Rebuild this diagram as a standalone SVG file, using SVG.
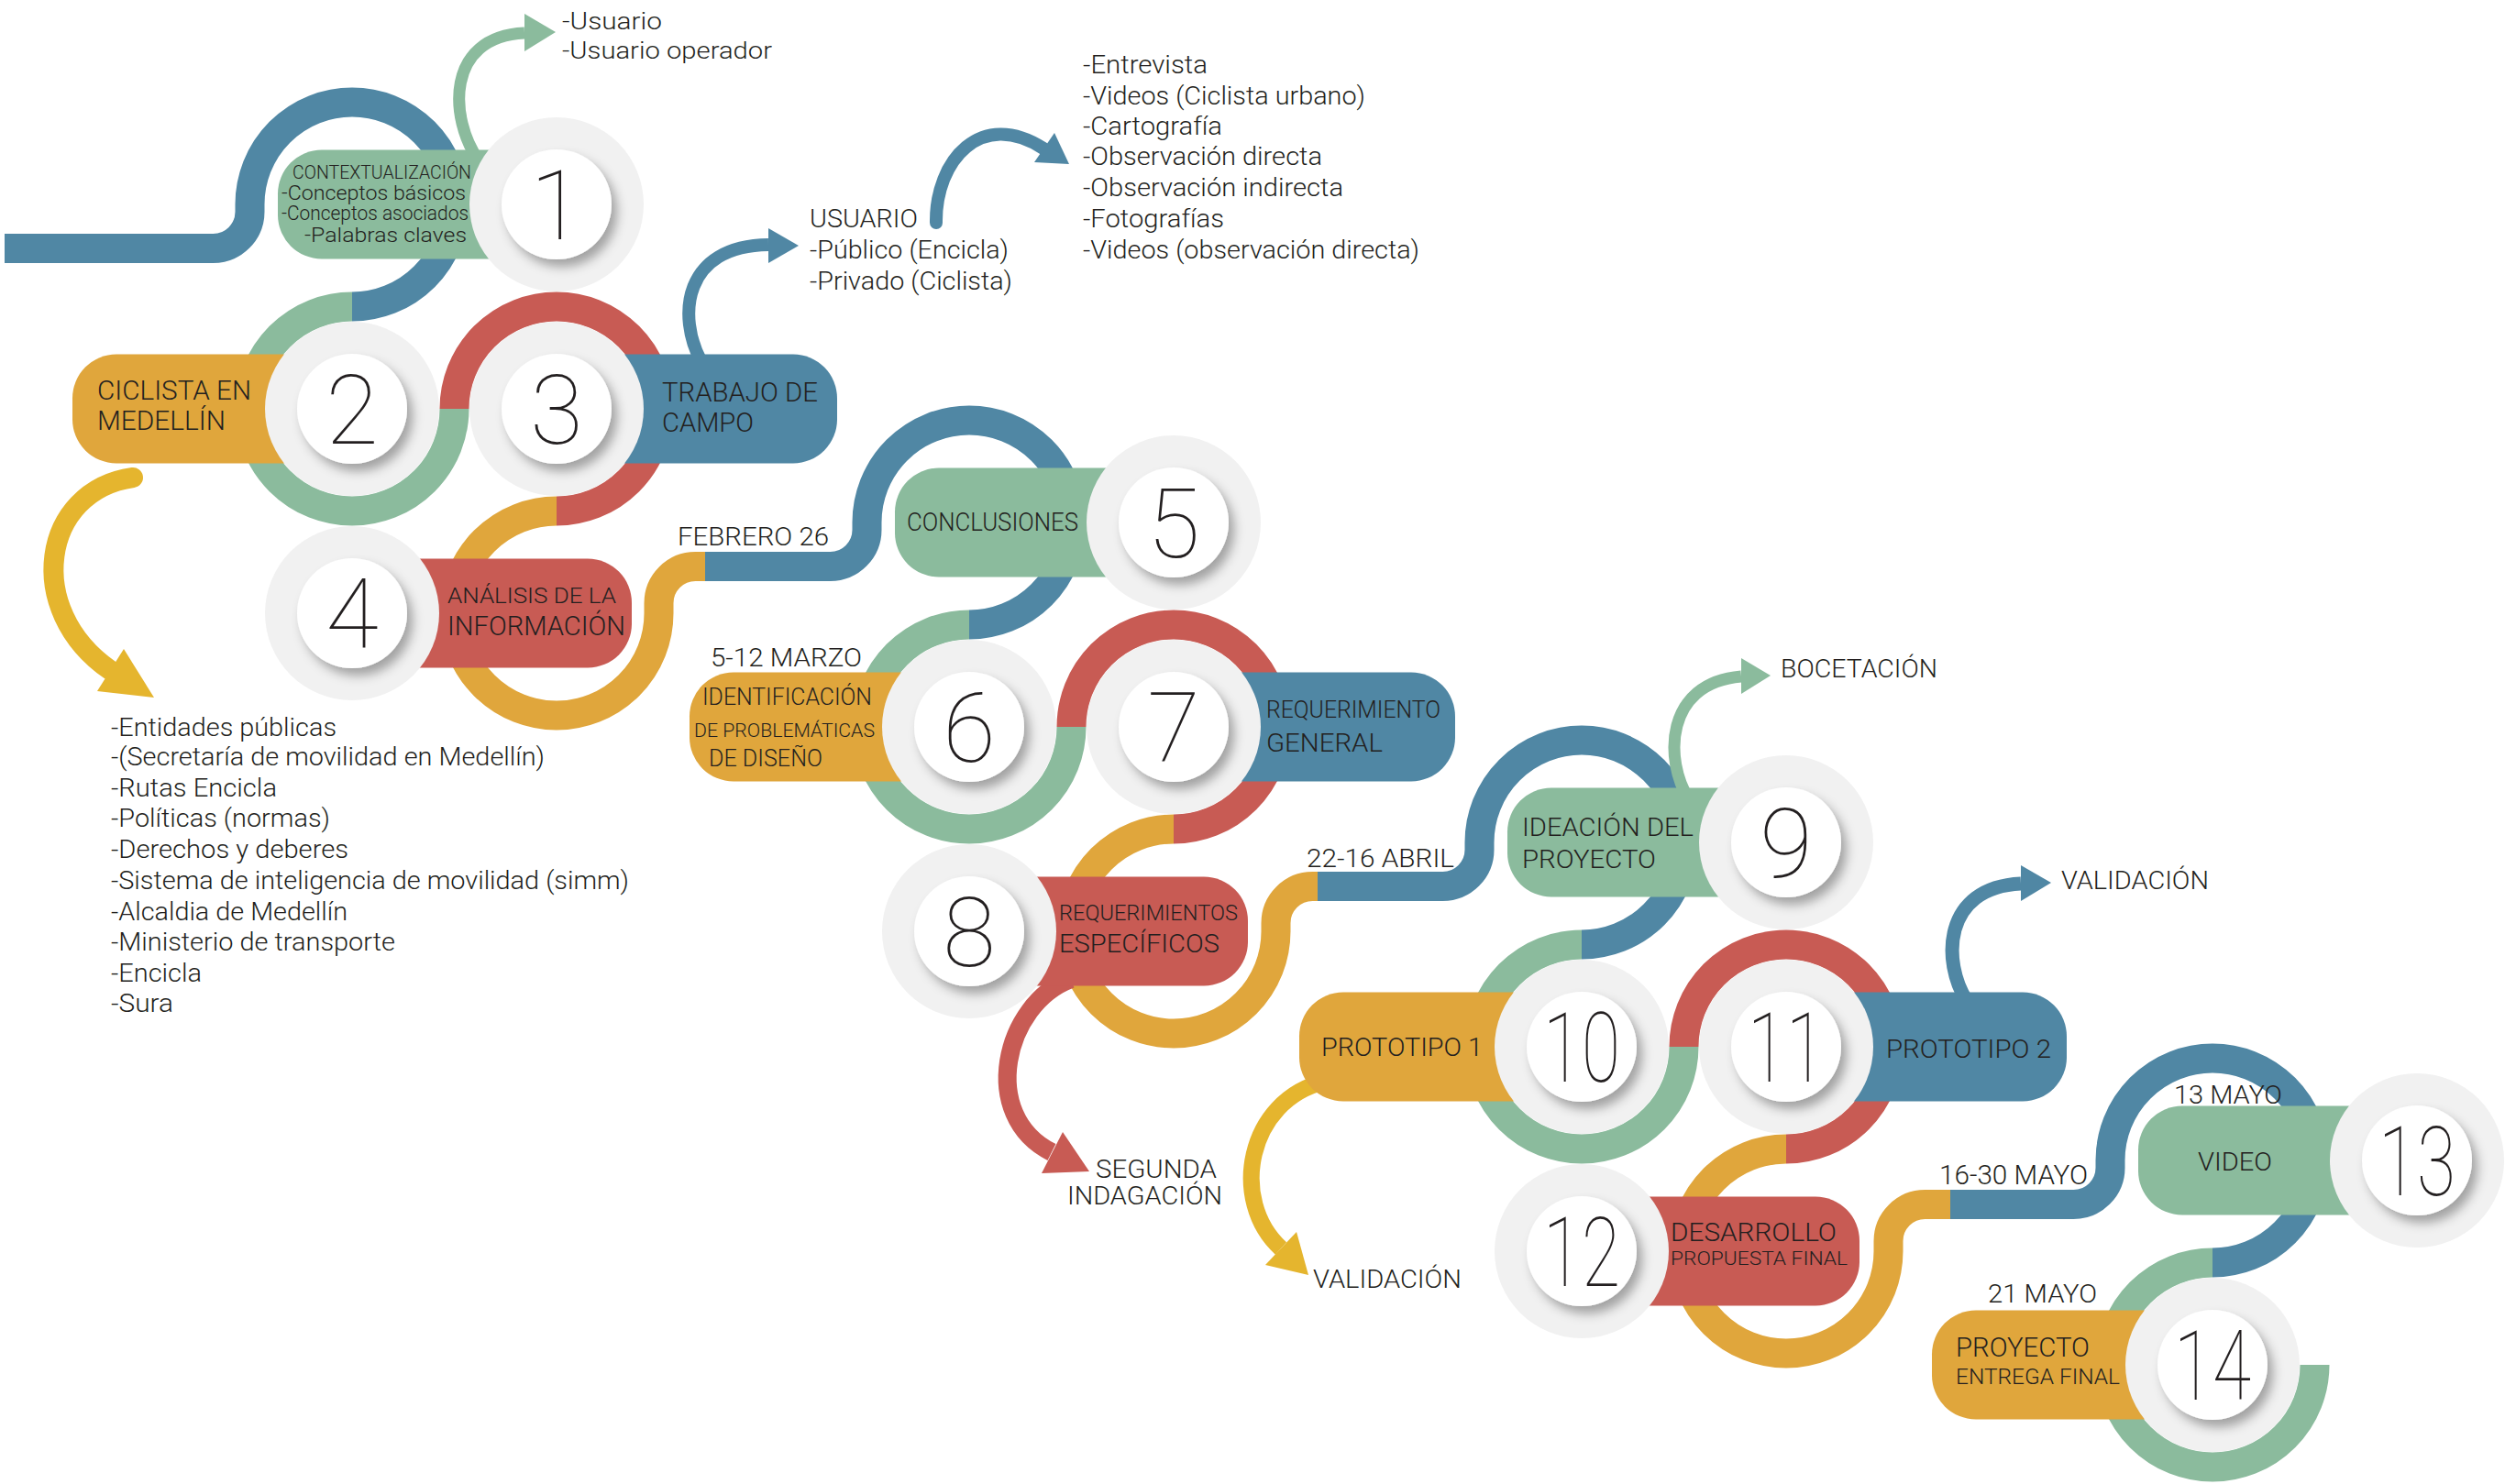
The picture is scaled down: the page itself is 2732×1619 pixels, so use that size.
<svg xmlns="http://www.w3.org/2000/svg" width="2732" height="1619" viewBox="0 0 2732 1619">
<defs>
<style>
.ring{fill:none;stroke-width:32}
.b{stroke:#5087a4}.g{stroke:#8bbb9d}.r{stroke:#c85b54}.o{stroke:#e0a63c}.y{stroke:#e5b52e}
.fb{fill:#5087a4}.fg{fill:#8bbb9d}.fr{fill:#c85b54}.fo{fill:#e0a63c}.fy{fill:#e5b52e}
.arw{fill:none}
.disc{fill:#f1f1f1}
.face{fill:#ffffff;filter:url(#sh)}
.num{font-family:Roboto,'Liberation Sans',sans-serif;font-weight:100;font-size:105px;fill:#231f20;text-anchor:middle}
.t{font-family:Roboto,'Liberation Sans',sans-serif;font-weight:300;fill:#231f20}
</style>
<filter id="sh" x="-40%" y="-40%" width="180%" height="180%">
<feDropShadow dx="6" dy="8" stdDeviation="6" flood-color="#000" flood-opacity="0.33"/>
</filter>
</defs>

<!-- path bands, rings and branch arrows -->
<g id="connectors">
<!-- module A -->
<path class="ring b" d="M 5 271 H 232.5 A 40 40 0 0 0 272.5 231 V 223 A 111.5 111.5 0 0 1 495.5 223 A 111.5 111.5 0 0 1 384 334.5"/>
<path class="ring g" d="M 384 334.5 A 111.5 111.5 0 0 0 384 557.5 A 111.5 111.5 0 0 0 495.5 446"/>
<path class="ring r" d="M 495.5 446 A 111.5 111.5 0 0 1 718.5 446 A 111.5 111.5 0 0 1 607 557.5"/>
<path class="ring o" d="M 607 557.5 A 111.5 111.5 0 0 0 607 780.5 A 111.5 111.5 0 0 0 718.5 669 V 658 A 40 40 0 0 1 758.5 618 H 770"/>
<!-- module B -->
<path class="ring b" d="M 769 618 H 905.5 A 40 40 0 0 0 945.5 578 V 570 A 111.5 111.5 0 0 1 1168.5 570 A 111.5 111.5 0 0 1 1057 681.5"/>
<path class="ring g" d="M 1057 681.5 A 111.5 111.5 0 0 0 1057 904.5 A 111.5 111.5 0 0 0 1168.5 793"/>
<path class="ring r" d="M 1168.5 793 A 111.5 111.5 0 0 1 1391.5 793 A 111.5 111.5 0 0 1 1280 904.5"/>
<path class="ring o" d="M 1280 904.5 A 111.5 111.5 0 0 0 1280 1127.5 A 111.5 111.5 0 0 0 1391.5 1016 V 1007 A 40 40 0 0 1 1431.5 967 H 1438"/>
<!-- module C -->
<path class="ring b" d="M 1437 967 H 1573.5 A 40 40 0 0 0 1613.5 927 V 919 A 111.5 111.5 0 0 1 1836.5 919 A 111.5 111.5 0 0 1 1725 1030.5"/>
<path class="ring g" d="M 1725 1030.5 A 111.5 111.5 0 0 0 1725 1253.5 A 111.5 111.5 0 0 0 1836.5 1142"/>
<path class="ring r" d="M 1836.5 1142 A 111.5 111.5 0 0 1 2059.5 1142 A 111.5 111.5 0 0 1 1948 1253.5"/>
<path class="ring o" d="M 1948 1253.5 A 111.5 111.5 0 0 0 1948 1476.5 A 111.5 111.5 0 0 0 2059.5 1365 V 1354 A 40 40 0 0 1 2099.5 1314 H 2128"/>
<!-- module D -->
<path class="ring b" d="M 2127 1314 H 2261.5 A 40 40 0 0 0 2301.5 1274 V 1266 A 111.5 111.5 0 0 1 2524.5 1266 A 111.5 111.5 0 0 1 2413 1377.5"/>
<path class="ring g" d="M 2413 1377.5 A 111.5 111.5 0 0 0 2413 1600.5 A 111.5 111.5 0 0 0 2524.5 1489"/>

<!-- branch arrows -->
<path class="arw g" stroke-width="13" d="M 522 175 C 490 130 485 40 572 36"/>
<polygon class="fg" points="606,35 572,15 572,56"/>
<path class="arw b" stroke-width="14" d="M 765 395 C 738 345 745 268 838 267"/>
<polygon class="fb" points="871,268 838,249 838,287"/>
<path class="arw b" stroke-width="14" stroke-linecap="round" d="M 1021 243 C 1020 175 1070 118 1138 162"/>
<polygon class="fb" points="1166,179 1128,177 1150,145"/>
<path class="arw y" stroke-width="22" stroke-linecap="round" d="M 145 521 C 45 535 25 665 120 731"/>
<polygon class="fy" points="168,761 106,754 135,708"/>
<path class="arw r" stroke-width="20" d="M 1168 1068 C 1095 1095 1067 1217 1147 1257"/>
<polygon class="fr" points="1188,1278 1159,1235 1136,1280"/>
<path class="arw y" stroke-width="18" d="M 1445 1180 C 1360 1200 1340 1310 1397 1362"/>
<polygon class="fy" points="1427,1391 1414,1344 1380,1380"/>
<path class="arw g" stroke-width="13" d="M 1842 872 C 1815 830 1815 745 1899 738"/>
<polygon class="fg" points="1931,737 1899,718 1899,757"/>
<path class="arw b" stroke-width="15" d="M 2145 1092 C 2118 1050 2118 968 2204 964"/>
<polygon class="fb" points="2237,963 2204,944 2204,983"/>
</g>

<g id="node1">
<rect class="fg" x="303" y="163.5" width="324" height="119" rx="48"/>
<circle class="disc" cx="607" cy="223" r="95"/>
<circle class="face" cx="607" cy="223" r="60"/>
<text class="num" x="607" y="261">1</text>
<text class="t" x="319" y="195" font-size="21" textLength="195" lengthAdjust="spacingAndGlyphs">CONTEXTUALIZACIÓN</text>
<text class="t" x="307" y="218" font-size="22" textLength="201" lengthAdjust="spacingAndGlyphs">-Conceptos básicos</text>
<text class="t" x="307" y="240" font-size="22" textLength="204" lengthAdjust="spacingAndGlyphs">-Conceptos asociados</text>
<text class="t" x="332" y="264" font-size="22" textLength="177" lengthAdjust="spacingAndGlyphs">-Palabras claves</text>
</g>

<g id="node2">
<rect class="fo" x="79" y="386.5" width="325" height="119" rx="48"/>
<circle class="disc" cx="384" cy="446" r="95"/>
<circle class="face" cx="384" cy="446" r="60"/>
<text class="num" x="384" y="484">2</text>
<text class="t" x="106" y="436" font-size="29" textLength="168" lengthAdjust="spacingAndGlyphs">CICLISTA EN</text>
<text class="t" x="106" y="469" font-size="29" textLength="140" lengthAdjust="spacingAndGlyphs">MEDELLÍN</text>
</g>

<g id="node3">
<rect class="fb" x="587" y="386.5" width="326" height="119" rx="48"/>
<circle class="disc" cx="607" cy="446" r="95"/>
<circle class="face" cx="607" cy="446" r="60"/>
<text class="num" x="607" y="484">3</text>
<text class="t" x="722" y="438" font-size="29" textLength="170" lengthAdjust="spacingAndGlyphs">TRABAJO DE</text>
<text class="t" x="722" y="471" font-size="29" textLength="100" lengthAdjust="spacingAndGlyphs">CAMPO</text>
</g>

<g id="node4">
<rect class="fr" x="364" y="609.5" width="325" height="119" rx="48"/>
<circle class="disc" cx="384" cy="669" r="95"/>
<circle class="face" cx="384" cy="669" r="60"/>
<text class="num" x="384" y="707">4</text>
<text class="t" x="488" y="658" font-size="24" textLength="184" lengthAdjust="spacingAndGlyphs">ANÁLISIS DE LA</text>
<text class="t" x="488" y="693" font-size="30" textLength="194" lengthAdjust="spacingAndGlyphs">INFORMACIÓN</text>
</g>

<g id="node5">
<rect class="fg" x="976" y="510.5" width="324" height="119" rx="48"/>
<circle class="disc" cx="1280" cy="570" r="95"/>
<circle class="face" cx="1280" cy="570" r="60"/>
<text class="num" x="1280" y="608">5</text>
<text class="t" x="989" y="579" font-size="27" textLength="187" lengthAdjust="spacingAndGlyphs">CONCLUSIONES</text>
</g>

<g id="node6">
<rect class="fo" x="752" y="733.5" width="325" height="119" rx="48"/>
<circle class="disc" cx="1057" cy="793" r="95"/>
<circle class="face" cx="1057" cy="793" r="60"/>
<text class="num" x="1057" y="831">6</text>
<text class="t" x="766" y="769" font-size="25" textLength="185" lengthAdjust="spacingAndGlyphs">IDENTIFICACIÓN</text>
<text class="t" x="757" y="804" font-size="21" textLength="197" lengthAdjust="spacingAndGlyphs">DE PROBLEMÁTICAS</text>
<text class="t" x="773" y="836" font-size="25" textLength="124" lengthAdjust="spacingAndGlyphs">DE DISEÑO</text>
</g>

<g id="node7">
<rect class="fb" x="1260" y="733.5" width="327" height="119" rx="48"/>
<circle class="disc" cx="1280" cy="793" r="95"/>
<circle class="face" cx="1280" cy="793" r="60"/>
<text class="num" x="1280" y="831">7</text>
<text class="t" x="1381" y="783" font-size="25" textLength="190" lengthAdjust="spacingAndGlyphs">REQUERIMIENTO</text>
<text class="t" x="1381" y="820" font-size="28" textLength="127" lengthAdjust="spacingAndGlyphs">GENERAL</text>
</g>

<g id="node8">
<rect class="fr" x="1037" y="956.5" width="324" height="119" rx="48"/>
<circle class="disc" cx="1057" cy="1016" r="95"/>
<circle class="face" cx="1057" cy="1016" r="60"/>
<text class="num" x="1057" y="1054">8</text>
<text class="t" x="1155" y="1004" font-size="23" textLength="195" lengthAdjust="spacingAndGlyphs">REQUERIMIENTOS</text>
<text class="t" x="1155" y="1039" font-size="28" textLength="175" lengthAdjust="spacingAndGlyphs">ESPECÍFICOS</text>
</g>

<g id="node9">
<rect class="fg" x="1644" y="859.5" width="324" height="119" rx="48"/>
<circle class="disc" cx="1948" cy="919" r="95"/>
<circle class="face" cx="1948" cy="919" r="60"/>
<text class="num" x="1948" y="957">9</text>
<text class="t" x="1660" y="912" font-size="28" textLength="187" lengthAdjust="spacingAndGlyphs">IDEACIÓN DEL</text>
<text class="t" x="1660" y="947" font-size="28" textLength="146" lengthAdjust="spacingAndGlyphs">PROYECTO</text>
</g>

<g id="node10">
<rect class="fo" x="1417" y="1082.5" width="328" height="119" rx="48"/>
<circle class="disc" cx="1725" cy="1142" r="95"/>
<circle class="face" cx="1725" cy="1142" r="60"/>
<text class="num" x="1725" y="1180" textLength="84" lengthAdjust="spacingAndGlyphs">10</text>
<text class="t" x="1441" y="1152" font-size="28" textLength="176" lengthAdjust="spacingAndGlyphs">PROTOTIPO 1</text>
</g>

<g id="node11">
<rect class="fb" x="1928" y="1082.5" width="326" height="119" rx="48"/>
<circle class="disc" cx="1948" cy="1142" r="95"/>
<circle class="face" cx="1948" cy="1142" r="60"/>
<text class="num" x="1948" y="1180" textLength="84" lengthAdjust="spacingAndGlyphs">11</text>
<text class="t" x="2057" y="1154" font-size="28" textLength="180" lengthAdjust="spacingAndGlyphs">PROTOTIPO 2</text>
</g>

<g id="node12">
<rect class="fr" x="1705" y="1305.5" width="323" height="119" rx="48"/>
<circle class="disc" cx="1725" cy="1365" r="95"/>
<circle class="face" cx="1725" cy="1365" r="60"/>
<text class="num" x="1725" y="1403" textLength="84" lengthAdjust="spacingAndGlyphs">12</text>
<text class="t" x="1822" y="1354" font-size="27" textLength="181" lengthAdjust="spacingAndGlyphs">DESARROLLO</text>
<text class="t" x="1822" y="1380" font-size="21" textLength="193" lengthAdjust="spacingAndGlyphs">PROPUESTA FINAL</text>
</g>

<g id="node13">
<rect class="fg" x="2332" y="1206.5" width="324" height="119" rx="48"/>
<circle class="disc" cx="2636" cy="1266" r="95"/>
<circle class="face" cx="2636" cy="1266" r="60"/>
<text class="num" x="2636" y="1304" textLength="84" lengthAdjust="spacingAndGlyphs">13</text>
<text class="t" x="2397" y="1277" font-size="28" textLength="81" lengthAdjust="spacingAndGlyphs">VIDEO</text>
</g>

<g id="node14">
<rect class="fo" x="2107" y="1429.5" width="326" height="119" rx="48"/>
<circle class="disc" cx="2413" cy="1489" r="95"/>
<circle class="face" cx="2413" cy="1489" r="60"/>
<text class="num" x="2413" y="1527" textLength="84" lengthAdjust="spacingAndGlyphs">14</text>
<text class="t" x="2133" y="1480" font-size="30" textLength="146" lengthAdjust="spacingAndGlyphs">PROYECTO</text>
<text class="t" x="2133" y="1510" font-size="24" textLength="179" lengthAdjust="spacingAndGlyphs">ENTREGA FINAL</text>
</g>

<!-- dates -->
<g id="dates">
<text class="t" x="739" y="595" font-size="27" textLength="165" lengthAdjust="spacingAndGlyphs">FEBRERO 26</text>
<text class="t" x="775" y="727" font-size="28" textLength="165" lengthAdjust="spacingAndGlyphs">5-12 MARZO</text>
<text class="t" x="1425" y="946" font-size="28" textLength="161" lengthAdjust="spacingAndGlyphs">22-16 ABRIL</text>
<text class="t" x="2115" y="1292" font-size="29" textLength="162" lengthAdjust="spacingAndGlyphs">16-30 MAYO</text>
<text class="t" x="2371" y="1204" font-size="28" textLength="118" lengthAdjust="spacingAndGlyphs">13 MAYO</text>
<text class="t" x="2168" y="1421" font-size="28" textLength="119" lengthAdjust="spacingAndGlyphs">21 MAYO</text>
</g>

<!-- branch notes -->
<g id="notes">
<text class="t" x="613" y="32" font-size="26" textLength="109" lengthAdjust="spacingAndGlyphs">-Usuario</text>
<text class="t" x="613" y="64" font-size="26" textLength="229" lengthAdjust="spacingAndGlyphs">-Usuario operador</text>

<text class="t" x="883" y="248" font-size="27" textLength="118" lengthAdjust="spacingAndGlyphs">USUARIO</text>
<text class="t" x="883" y="282" font-size="27" textLength="217" lengthAdjust="spacingAndGlyphs">-Público (Encicla)</text>
<text class="t" x="883" y="316" font-size="27" textLength="221" lengthAdjust="spacingAndGlyphs">-Privado (Ciclista)</text>

<text class="t" x="1181" y="80" font-size="27" textLength="136" lengthAdjust="spacingAndGlyphs">-Entrevista</text>
<text class="t" x="1181" y="114" font-size="27" textLength="308" lengthAdjust="spacingAndGlyphs">-Videos (Ciclista urbano)</text>
<text class="t" x="1181" y="147" font-size="27" textLength="152" lengthAdjust="spacingAndGlyphs">-Cartografía</text>
<text class="t" x="1181" y="180" font-size="27" textLength="261" lengthAdjust="spacingAndGlyphs">-Observación directa</text>
<text class="t" x="1181" y="214" font-size="27" textLength="284" lengthAdjust="spacingAndGlyphs">-Observación indirecta</text>
<text class="t" x="1181" y="248" font-size="27" textLength="154" lengthAdjust="spacingAndGlyphs">-Fotografías</text>
<text class="t" x="1181" y="282" font-size="27" textLength="367" lengthAdjust="spacingAndGlyphs">-Videos (observación directa)</text>

<text class="t" x="121" y="803" font-size="28" textLength="246" lengthAdjust="spacingAndGlyphs">-Entidades públicas</text>
<text class="t" x="121" y="835" font-size="28" textLength="473" lengthAdjust="spacingAndGlyphs">-(Secretaría de movilidad en Medellín)</text>
<text class="t" x="121" y="869" font-size="28" textLength="181" lengthAdjust="spacingAndGlyphs">-Rutas Encicla</text>
<text class="t" x="121" y="902" font-size="28" textLength="239" lengthAdjust="spacingAndGlyphs">-Políticas (normas)</text>
<text class="t" x="121" y="936" font-size="28" textLength="259" lengthAdjust="spacingAndGlyphs">-Derechos y deberes</text>
<text class="t" x="121" y="970" font-size="28" textLength="565" lengthAdjust="spacingAndGlyphs">-Sistema de inteligencia de movilidad (simm)</text>
<text class="t" x="121" y="1004" font-size="28" textLength="258" lengthAdjust="spacingAndGlyphs">-Alcaldia de Medellín</text>
<text class="t" x="121" y="1037" font-size="28" textLength="310" lengthAdjust="spacingAndGlyphs">-Ministerio de transporte</text>
<text class="t" x="121" y="1071" font-size="28" textLength="99" lengthAdjust="spacingAndGlyphs">-Encicla</text>
<text class="t" x="121" y="1104" font-size="28" textLength="68" lengthAdjust="spacingAndGlyphs">-Sura</text>

<text class="t" x="1195" y="1285" font-size="28" textLength="132" lengthAdjust="spacingAndGlyphs">SEGUNDA</text>
<text class="t" x="1164" y="1314" font-size="28" textLength="169" lengthAdjust="spacingAndGlyphs">INDAGACIÓN</text>
<text class="t" x="1432" y="1405" font-size="28" textLength="162" lengthAdjust="spacingAndGlyphs">VALIDACIÓN</text>
<text class="t" x="1942" y="739" font-size="28" textLength="171" lengthAdjust="spacingAndGlyphs">BOCETACIÓN</text>
<text class="t" x="2248" y="970" font-size="28" textLength="161" lengthAdjust="spacingAndGlyphs">VALIDACIÓN</text>
</g>
</svg>
